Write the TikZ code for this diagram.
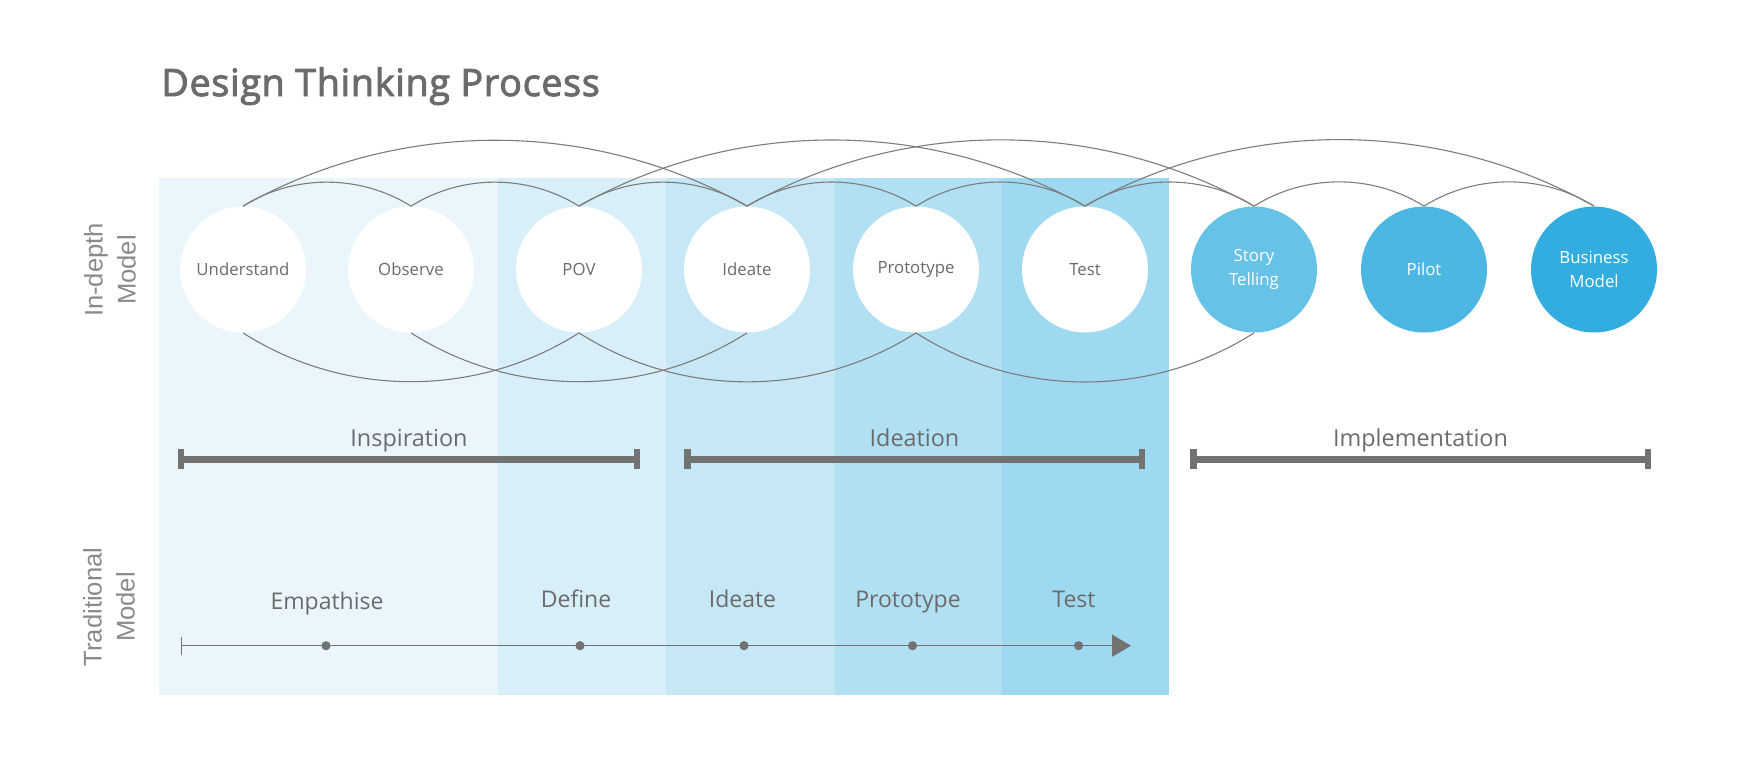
\documentclass[tikz,border=0pt]{standalone}
\usepackage{fontspec}
\setmainfont{Open Sans}
\newfontfamily\titlefont[FakeBold=2.5,LetterSpace=2]{Open Sans}
\newfontfamily\sidefont{Liberation Sans}
\usetikzlibrary{arrows.meta}
\definecolor{bandA}{HTML}{EAF6FB}
\definecolor{bandB}{HTML}{D8EEF8}
\definecolor{bandC}{HTML}{C6E7F6}
\definecolor{bandD}{HTML}{B1E0F2}
\definecolor{bandE}{HTML}{9FD8F1}
\definecolor{storyc}{HTML}{67C2E8}
\definecolor{pilotc}{HTML}{4DB7E4}
\definecolor{busc}{HTML}{33ACDF}
\definecolor{arcc}{HTML}{7C7C7C}
\definecolor{barc}{HTML}{727272}
\definecolor{txtc}{HTML}{6B6B6B}
\definecolor{sidec}{HTML}{8A8A8A}
\tikzset{
  circ/.style={circle, minimum size=63pt, inner sep=0pt, fill=white, text=txtc,
    align=center, font=\fontsize{8.4}{12}\selectfont},
  colcirc/.style={circ, fill=#1, text=white},
  smallarc/.style={draw=arcc, line width=0.55pt, out=32, in=148, looseness=0.92},
  bigarc/.style={draw=arcc, line width=0.55pt, out=29.4, in=150.6, looseness=0.91},
  lowarc/.style={draw=arcc, line width=0.55pt, out=-32.5, in=-147.5, looseness=0.924},
  phasebar/.style={draw=barc, line width=3.35pt},
  phasetick/.style={draw=barc, line width=3.3pt},
  phaselabel/.style={anchor=base, text=txtc, font=\fontsize{11.7}{14}\selectfont, inner sep=0pt},
  steplabel/.style={anchor=base, text=txtc, font=\fontsize{11.5}{14}\selectfont, inner sep=0pt},
  sidelabel/.style={rotate=90, align=center, text=sidec, font=\sidefont\fontsize{12.8}{16.5}\selectfont, inner sep=0pt},
  timeline/.style={draw=barc, line width=0.65pt, {Bar[width=9pt]}-{Triangle[length=9.5pt,width=11pt]}},
  stepdot/.style={circle, fill=barc, minimum size=4.6pt, inner sep=0pt}
}
\begin{document}
\begin{tikzpicture}[x=0.5pt,y=0.5pt]
\useasboundingbox (0,0) rectangle (1738,-772);
% background bands
\fill[bandA] (159,-178) rectangle (498,-695);
\fill[bandB] (498,-178) rectangle (666,-695);
\fill[bandC] (666,-178) rectangle (835,-695);
\fill[bandD] (835,-178) rectangle (1002,-695);
\fill[bandE] (1002,-178) rectangle (1169,-695);
% title
\node[anchor=base west, inner sep=0pt, text=txtc, font=\titlefont\fontsize{18.8}{22}\selectfont] (title) at (161,-96) {Design Thinking Process};
% side labels
\node[sidelabel] (lab1) at (110,-270) {In-depth\\Model};
\node[sidelabel] (lab2) at (109,-607) {Traditional\\Model};
% circles
\node[circ] (n0) at (243,-269.5) {Understand};
\node[circ] (n1) at (411,-269.5) {Observe};
\node[circ] (n2) at (579,-269.5) {POV};
\node[circ] (n3) at (747,-269.5) {Ideate};
\node[circ] (n4) at (916,-269.5) {Prototype};
\node[circ] (n5) at (1085,-269.5) {Test};
\node[colcirc=storyc] (n6) at (1254,-269.5) {Story\\Telling};
\node[colcirc=pilotc] (n7) at (1424,-269.5) {Pilot};
\node[colcirc=busc] (n8) at (1594,-269.5) {Business\\Model};
% small top arcs
\draw[smallarc] (n0.north) to (n1.north);
\draw[smallarc] (n1.north) to (n2.north);
\draw[smallarc] (n2.north) to (n3.north);
\draw[smallarc] (n3.north) to (n4.north);
\draw[smallarc] (n4.north) to (n5.north);
\draw[smallarc] (n5.north) to (n6.north);
\draw[smallarc] (n6.north) to (n7.north);
\draw[smallarc] (n7.north) to (n8.north);
% big top arcs
\draw[bigarc] (n0.north) to (n3.north);
\draw[bigarc] (n2.north) to (n5.north);
\draw[bigarc] (n3.north) to (n6.north);
\draw[bigarc] (n5.north) to (n8.north);
% bottom arcs
\draw[lowarc] (n0.south) to (n2.south);
\draw[lowarc] (n1.south) to (n3.south);
\draw[lowarc] (n2.south) to (n4.south);
\draw[lowarc] (n4.south) to (n6.south);
% phase bars
\coordinate (pa1) at (181,-459.3);
\coordinate (pa2) at (637,-459.3);
\coordinate (pb1) at (687.5,-459.3);
\coordinate (pb2) at (1142,-459.3);
\coordinate (pc1) at (1193.5,-459.3);
\coordinate (pc2) at (1648,-459.3);
\draw[phasebar] (pa1) -- (pa2);
\draw[phasebar] (pb1) -- (pb2);
\draw[phasebar] (pc1) -- (pc2);
\foreach \p in {pa1,pa2,pb1,pb2,pc1,pc2}{
  \draw[phasetick] ([yshift=5pt]\p) -- ([yshift=-5pt]\p);
}
\node[phaselabel] (ph1) at (409,-446.7) {Inspiration};
\node[phaselabel] (ph2) at (914.5,-446.7) {Ideation};
\node[phaselabel] (ph3) at (1420.5,-446.7) {Implementation};
% traditional timeline
\coordinate (tl0) at (180.5,-645.7);
\coordinate (tl1) at (1131,-645.7);
\draw[timeline] (tl0) -- (tl1);
\node[stepdot] (d1) at (326,-645.7) {};
\node[stepdot] (d2) at (580,-645.7) {};
\node[stepdot] (d3) at (744,-645.7) {};
\node[stepdot] (d4) at (912.5,-645.7) {};
\node[stepdot] (d5) at (1078.5,-645.7) {};
\node[steplabel] (s1) at (327,-609) {Empathise};
\node[steplabel] (s2) at (576,-607.5) {Define};
\node[steplabel] (s3) at (742.5,-607.5) {Ideate};
\node[steplabel] (s4) at (908,-607.5) {Prototype};
\node[steplabel] (s5) at (1074,-607.5) {Test};
\end{tikzpicture}
\end{document}
